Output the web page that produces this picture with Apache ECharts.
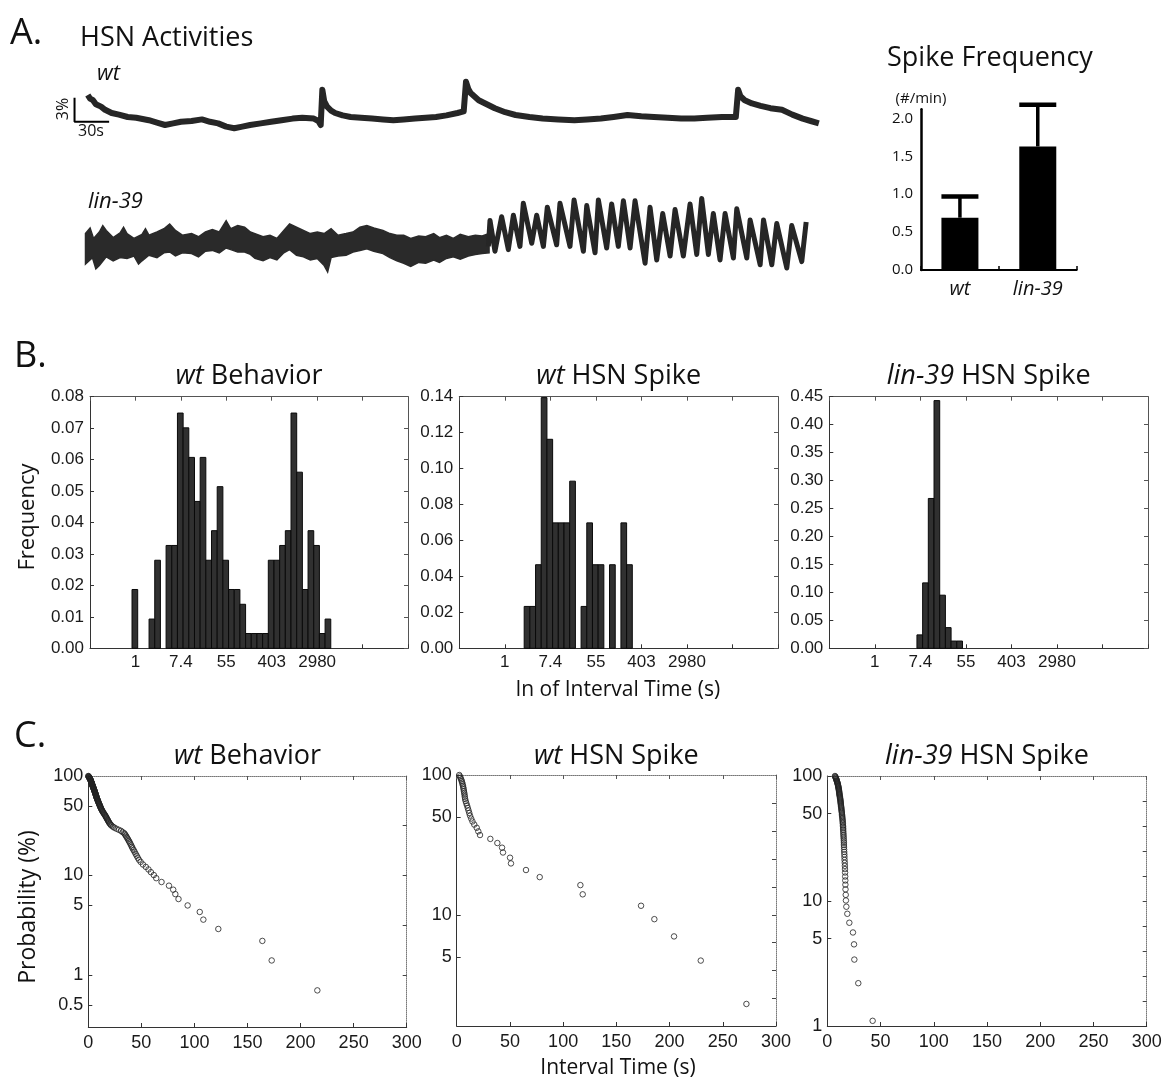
<!DOCTYPE html>
<html><head><meta charset="utf-8">
<script src="https://cdn.jsdelivr.net/npm/echarts@6/dist/echarts.min.js"></script>
<style>html,body{margin:0;padding:0;background:#fff}#c{width:1165px;height:1085px}</style>
</head><body><div id="c"></div>
<script>
// ---------------- DATA ----------------
// Panel A: traces (time s, dF/F %)
const wtTrace = [[0,3.75],[2,3.3],[4.5,3.1],[7,2.6],[11.5,2.3],[15,1.9],[20.7,1.5],[27,1.3],[34.6,1.0],[42,0.9],[53,0.6],[60,0.3],[67,0.0],[74,0.2],[80.8,0.4],[90,0.5],[99,0.7],[106,0.4],[113,0.2],[120,-0.2],[127,-0.4],[134,-0.2],[140.7,0.0],[150,0.2],[159,0.4],[168,0.6],[177.6,0.8],[186,0.9],[196,0.8],[200,0.5],[202,0.0],[203.4,4.4],[205,3.0],[207.5,2.3],[211,1.8],[214.5,1.5],[221,1.2],[228,1.0],[237,0.9],[246.5,0.8],[256,0.7],[265,0.6],[274,0.7],[283.8,0.8],[293,0.9],[302,1.0],[311,1.2],[320.6,1.5],[326,1.7],[328,5.4],[330,4.5],[332,4.0],[339,3.1],[346,2.6],[353,2.1],[362,1.6],[371,1.25],[383,1.0],[394.4,0.8],[408,0.7],[422,0.6],[433,0.7],[445,0.8],[456,1.0],[468,1.25],[480,1.1],[491,1.0],[503,0.9],[514.5,0.8],[526,0.8],[537,0.9],[550,1.0],[562,1.0],[564,4.4],[566,3.6],[569.7,3.1],[576,2.7],[583.5,2.4],[592,2.1],[602,1.9],[611,1.3],[620,0.8],[627,0.5],[634,0.2]];
const lin39BandUpper = [[-2,1.8],[2,2.5],[5,1.2],[10,2.0],[13,2.8],[16,2.2],[22,1.3],[28,1.9],[31,2.6],[34,1.8],[40,1.2],[47,1.7],[50,2.4],[53,1.6],[60,2.0],[66,2.4],[71,3.0],[76,2.2],[82,1.6],[90,1.8],[96,1.4],[102,2.0],[108,2.3],[114,2.0],[120,3.4],[124,2.4],[130,2.8],[136,2.6],[141,2.0],[145,1.8],[152,1.4],[158,1.6],[164,1.2],[170,2.2],[175,3.0],[181,2.6],[187,2.2],[193,1.8],[199,2.0],[205,1.8],[211,2.4],[217,1.6],[224,1.8],[230,2.0],[236,2.6],[242,2.8],[248,2.5],[256,2.2],[262,1.8],[268,1.6],[274,1.6],[280,1.2],[287,1.5],[293,1.4],[300,1.8],[305,1.3],[311,1.6],[317,1.2],[323,1.7],[330,1.4],[336,1.6],[342,1.5],[348,1.8]];
const lin39BandLower = [[-2,-2.0],[4,-1.2],[7,-2.6],[10,-2.2],[16,-1.1],[22,-1.6],[28,-1.2],[34,-1.3],[40,-1.0],[44,-2.0],[47,-1.6],[53,-0.9],[60,-1.2],[66,-0.6],[71,-0.5],[76,-1.0],[82,-0.6],[90,-0.7],[96,-1.1],[102,-0.4],[108,-0.3],[114,-0.6],[120,0.0],[124,-0.2],[130,-0.5],[136,-0.5],[141,-0.8],[145,-1.3],[152,-1.6],[158,-1.2],[164,-1.5],[170,-0.6],[175,-0.2],[181,-0.9],[187,-1.1],[193,-1.5],[199,-1.3],[205,-2.2],[208,-3.0],[211,-1.2],[217,-1.0],[224,-0.9],[230,-0.5],[236,-0.3],[242,-0.1],[248,-0.4],[256,-0.7],[262,-1.2],[268,-1.6],[274,-1.9],[280,-2.3],[287,-1.8],[293,-1.9],[300,-1.5],[305,-1.8],[311,-1.3],[317,-1.1],[323,-1.4],[330,-1.0],[336,-0.8],[342,-0.7],[348,-0.6]];
const lin39Osc = [[347.4,0.2],[348.8,3.45],[353.1,-0.4],[358.9,3.9],[364.7,-0.2],[369.1,4.1],[374.8,0.2],[377.7,5.6],[385.0,0.6],[389.3,4.1],[395.1,0.2],[398.5,5.1],[406.6,0.4],[409.5,5.6],[418.2,0.2],[421.7,6.0],[429.8,-0.4],[432.7,5.3],[439.9,-0.6],[442.8,6.0],[450.0,0.0],[454.3,5.5],[460.1,0.2],[464.5,5.9],[470.3,0.0],[474.6,5.9],[483.3,-1.9],[487.6,5.1],[493.4,-1.5],[498.6,4.3],[505.0,-1.0],[509.3,4.8],[516.5,-1.0],[522.3,5.5],[528.1,-0.8],[532.4,6.2],[538.2,-0.8],[542.5,4.3],[548.3,-1.5],[552.7,4.3],[559.9,-1.25],[562.8,4.9],[571.5,-1.25],[574.4,3.5],[583.1,-2.1],[586.0,3.5],[593.2,-2.1],[597.5,3.05],[606.2,-2.5],[610.5,2.8],[619.2,-1.7],[623.0,3.25]];
const scaleBar = [[-11.5,3.4],[-11.5,0.4],[18.5,0.4]];

// Spike frequency
const freqCategories = ['wt','lin-39'];
const freqMean = [0.69, 1.63];
const freqUpper = [0.97, 2.18];

// Panel B histograms (ln of interval), bin left edges + frequency
const histBinWidth = 0.25;
const histTickValues = [0,2,4,6,8];
const histTickLabels = ['1','7.4','55','403','2980'];
const wtBehBinStart = [-0.15,0.60,0.85,1.35,1.60,1.85,2.10,2.35,2.60,2.85,3.10,3.35,3.60,3.85,4.10,4.35,4.60,4.85,5.10,5.35,5.60,5.85,6.10,6.35,6.60,6.85,7.10,7.35,7.60,7.85,8.10,8.35];
const wtBehFreq     = [0.0187,0.0093,0.028,0.0327,0.0327,0.0748,0.0701,0.0607,0.0467,0.0607,0.028,0.0374,0.0514,0.028,0.0187,0.0187,0.014,0.0047,0.0047,0.0047,0.0047,0.028,0.028,0.0327,0.0374,0.0748,0.056,0.0187,0.0374,0.0327,0.0047,0.0093];
const wtHsnBinStart = [0.85,1.10,1.35,1.60,1.85,2.10,2.35,2.60,2.85,3.35,3.60,3.85,4.10,4.60,5.10,5.35];
const wtHsnFreq     = [0.0233,0.0233,0.0465,0.1395,0.1163,0.0698,0.0698,0.0698,0.093,0.0233,0.0698,0.0465,0.0465,0.0465,0.0698,0.0465];
const lin39BinStart = [1.85,2.10,2.35,2.60,2.85,3.10,3.35,3.60];
const lin39Freq     = [0.024,0.117,0.268,0.443,0.095,0.037,0.013,0.013];

// Panel C survival (interval s, probability %)
const survWtBeh = [[0.0,100],[0.18,99.3],[0.36,98.6],[0.54,97.8],[0.72,97.1],[0.9,96.4],[1.08,95.7],[1.26,95.0],[1.44,94.2],[1.62,93.5],[1.8,92.8],[1.98,92.1],[2.1,91.4],[2.2,90.6],[2.35,89.9],[2.45,89.2],[2.6,88.5],[2.7,87.8],[2.8,87.1],[2.95,86.3],[3.05,85.6],[3.2,84.9],[3.3,84.2],[3.4,83.5],[3.55,82.7],[3.65,82.0],[3.8,81.3],[3.9,80.6],[4.0,79.9],[4.15,79.1],[4.3,78.4],[4.45,77.7],[4.6,77.0],[4.75,76.3],[4.9,75.5],[5.05,74.8],[5.2,74.1],[5.3,73.4],[5.45,72.7],[5.6,71.9],[5.75,71.2],[5.9,70.5],[6.05,69.8],[6.2,69.1],[6.35,68.3],[6.5,67.6],[6.6,66.9],[6.75,66.2],[6.9,65.5],[7.05,64.7],[7.2,64.0],[7.35,63.3],[7.5,62.6],[7.6,61.9],[7.75,61.2],[7.9,60.4],[8.1,59.7],[8.3,59.0],[8.5,58.3],[8.7,57.6],[8.9,56.8],[9.1,56.1],[9.3,55.4],[9.5,54.7],[9.7,54.0],[9.9,53.2],[10.15,52.5],[10.4,51.8],[10.65,51.1],[10.9,50.4],[11.1,49.6],[11.35,48.9],[11.6,48.2],[11.85,47.5],[12.1,46.8],[12.5,46.0],[12.85,45.3],[13.2,44.6],[13.55,43.9],[13.9,43.2],[14.4,42.4],[14.85,41.7],[15.3,41.0],[15.8,40.3],[16.25,39.6],[16.65,38.8],[17.05,38.1],[17.5,37.4],[17.9,36.7],[18.35,36.0],[18.8,35.3],[19.3,34.5],[19.8,33.8],[20.4,33.1],[21.1,32.4],[21.85,31.7],[23.3,30.9],[24.6,30.2],[26.5,29.5],[28.7,28.8],[30.8,28.1],[32.3,27.3],[33.8,26.6],[34.6,25.9],[35.3,25.2],[36.0,24.5],[36.8,23.7],[37.5,23.0],[38.2,22.3],[38.9,21.6],[39.6,20.9],[40.4,20.1],[41.1,19.4],[41.8,18.7],[42.7,18.0],[43.6,17.3],[44.6,16.5],[45.6,15.8],[46.6,15.1],[47.7,14.4],[49.3,13.7],[51.5,12.9],[54.2,12.2],[56.7,11.5],[59.0,10.8],[61.7,10.1],[64.0,9.4],[69,8.6],[76,7.9],[80,7.2],[82,6.5],[85,5.8],[93.6,5.0],[105,4.3],[108.4,3.6],[122.5,2.9],[164,2.2],[172.8,1.4],[215.8,0.7]];
const survWtHsn = [[2.4,100],[3.0,97.7],[3.6,95.3],[4.2,93.0],[4.7,90.7],[5.1,88.4],[5.5,86.0],[5.9,83.7],[6.2,81.4],[6.5,79.1],[6.8,76.7],[7.1,74.4],[7.4,72.1],[7.6,69.8],[7.9,67.4],[8.4,65.1],[9.0,62.8],[9.7,60.5],[10.4,58.1],[11.1,55.8],[11.8,53.5],[12.5,51.2],[13.6,48.8],[14.8,46.5],[16.5,44.2],[18.8,41.9],[20.3,39.5],[21.9,37.2],[31.6,34.9],[38.2,32.6],[42.6,30.2],[43.5,27.9],[50.1,25.6],[51.0,23.3],[65.1,20.9],[78.0,18.6],[116.2,16.3],[118.4,14.0],[173.2,11.6],[185.7,9.3],[204.2,7.0],[229.3,4.7],[272.2,2.3]];
const survLin39 = [[7.2,100],[7.5,98.9],[7.7,97.8],[8.0,96.6],[8.2,95.5],[8.4,94.4],[8.6,93.3],[8.8,92.1],[9.0,91.0],[9.2,89.9],[9.4,88.8],[9.6,87.6],[9.8,86.5],[9.9,85.4],[10.1,84.3],[10.2,83.1],[10.4,82.0],[10.5,80.9],[10.6,79.8],[10.7,78.7],[10.9,77.5],[11.0,76.4],[11.1,75.3],[11.2,74.2],[11.3,73.0],[11.4,71.9],[11.5,70.8],[11.6,69.7],[11.8,68.5],[11.9,67.4],[12.0,66.3],[12.2,65.2],[12.3,64.0],[12.4,62.9],[12.5,61.8],[12.6,60.7],[12.7,59.6],[12.8,58.4],[12.9,57.3],[13.1,56.2],[13.2,55.1],[13.3,53.9],[13.4,52.8],[13.6,51.7],[13.7,50.6],[13.8,49.4],[13.9,48.3],[14.0,47.2],[14.2,46.1],[14.3,44.9],[14.4,43.8],[14.5,42.7],[14.6,41.6],[14.7,40.4],[14.8,39.3],[14.9,38.2],[14.9,37.1],[15.0,36.0],[15.1,34.8],[15.2,33.7],[15.3,32.6],[15.4,31.5],[15.5,30.3],[15.6,29.2],[15.6,28.1],[15.7,27.0],[15.8,25.8],[15.9,24.7],[16.0,23.6],[16.1,22.5],[16.2,21.3],[16.4,20.2],[16.5,19.1],[16.6,18.0],[16.7,16.9],[16.8,15.7],[16.9,14.6],[17.0,13.5],[17.1,12.4],[17.3,11.2],[17.5,10.1],[17.9,9.0],[18.8,7.9],[20.7,6.7],[24.1,5.6],[25.1,4.5],[25.4,3.4],[29.1,2.2],[42.6,1.1]];
const survLabelsWtBeh = [100,50,10,5,1,0.5];
const survLabelsWtHsn = [100,50,10,5];
const survLabelsLin39 = [100,50,10,5,1];
const survRightTicksWtBeh = [0,0.5,1,1.5];
const survRightTicksWtHsn = [0.4,0.6,0.8,1.0,1.2,1.4,1.6,1.8];
const survRightTicksLin39 = [0.2,0.4,0.6,0.8,1.0,1.2,1.4,1.6,1.8];

// ---------------- CHART ----------------
const TICK_FONT = 'Liberation Sans';
const TITLE_FONT = 'Open Sans';
const INK = '#1a1a1a';
const grids=[], xAxes=[], yAxes=[], series=[], graphics=[];
function addGrid(g){ grids.push(g); return grids.length-1; }

function histRender(params, api){
  const a = api.coord([api.value(0), 0]);
  const b = api.coord([api.value(1), api.value(2)]);
  return {type:'rect', shape:{x:a[0], y:b[1], width:b[0]-a[0], height:a[1]-b[1]},
    style:{fill:'#303030', stroke:'#0a0a0a', lineWidth:1}};
}
const tickLbl = (size)=>({color:INK, fontFamily:TICK_FONT, fontSize:size});

function addHist(box, yMax, yInt, binStart, freq){
  const gi = addGrid(box);
  const xb = xAxes.length;
  xAxes.push({gridIndex:gi, type:'value', min:-2, max:12, interval:2, position:'bottom',
    axisLine:{show:true,onZero:false,lineStyle:{color:'#333',width:1}},
    axisTick:{show:true,inside:true,length:4,lineStyle:{color:'#333'}},
    axisLabel:Object.assign({margin:6, formatter:v=>{const i=histTickValues.indexOf(v);return i>=0?histTickLabels[i]:'';}}, tickLbl(17)),
    splitLine:{show:false}});
  xAxes.push({gridIndex:gi, type:'value', min:-2, max:12, interval:2, position:'top',
    axisLine:{show:true,onZero:false,lineStyle:{color:'#555',width:1}},
    axisTick:{show:true,inside:true,length:4,lineStyle:{color:'#555'}},
    axisLabel:{show:false}, splitLine:{show:false}});
  const yl = yAxes.length;
  yAxes.push({gridIndex:gi, type:'value', min:0, max:yMax, interval:yInt, position:'left',
    axisLine:{show:true,onZero:false,lineStyle:{color:'#333',width:1}},
    axisTick:{show:true,inside:true,length:4,lineStyle:{color:'#333'}},
    axisLabel:Object.assign({margin:6, formatter:v=>v.toFixed(2)}, tickLbl(17)),
    splitLine:{show:false}});
  yAxes.push({gridIndex:gi, type:'value', min:0, max:yMax, interval:yInt, position:'right',
    axisLine:{show:true,onZero:false,lineStyle:{color:'#555',width:1}},
    axisTick:{show:true,inside:true,length:4,lineStyle:{color:'#555'}},
    axisLabel:{show:false}, splitLine:{show:false}});
  series.push({type:'custom', xAxisIndex:xb, yAxisIndex:yl, renderItem:histRender, silent:true,
    encode:{x:[0,1], y:2}, data:binStart.map((s,i)=>[s, s+histBinWidth, freq[i]])});
}

function addSurv(box, yMin, labels, rightTicks, data){
  const gi = addGrid(box);
  const xb = xAxes.length;
  xAxes.push({gridIndex:gi, type:'value', min:0, max:300, interval:50, position:'bottom',
    axisLine:{show:true,onZero:false,lineStyle:{color:'#333',width:1}},
    axisTick:{show:true,inside:true,length:4,lineStyle:{color:'#333'}},
    axisLabel:Object.assign({margin:7}, tickLbl(18)), splitLine:{show:false}});
  xAxes.push({gridIndex:gi, type:'value', min:0, max:300, interval:50, position:'top',
    axisLine:{show:true,onZero:false,lineStyle:{color:'#777',width:1,type:'dotted'}},
    axisTick:{show:true,inside:true,length:4,lineStyle:{color:'#555'}},
    axisLabel:{show:false}, splitLine:{show:false}});
  const ylog = yAxes.length;
  const lmin = Math.log10(yMin);
  yAxes.push({gridIndex:gi, type:'log', logBase:10, min:yMin, max:100, position:'left',
    axisLine:{show:true,onZero:false,lineStyle:{color:'#333',width:1}},
    axisTick:{show:false}, axisLabel:{show:false}, splitLine:{show:false}, minorTick:{show:false}});
  const lv = labels.map(Math.log10);
  yAxes.push({gridIndex:gi, type:'value', min:lmin, max:2, position:'left',
    axisLine:{show:false,onZero:false},
    axisTick:{show:true,inside:true,length:4,customValues:lv,lineStyle:{color:'#333'}},
    axisLabel:Object.assign({margin:5, customValues:lv,
      formatter:v=>{const l=labels.find(l=>Math.abs(Math.log10(l)-v)<1e-6);return l===undefined?'':String(l);}}, tickLbl(18)),
    splitLine:{show:false}});
  yAxes.push({gridIndex:gi, type:'value', min:lmin, max:2, position:'right',
    axisLine:{show:true,onZero:false,lineStyle:{color:'#777',width:1,type:'dotted'}},
    axisTick:{show:true,inside:true,length:4,customValues:rightTicks,lineStyle:{color:'#444'}},
    axisLabel:{show:false}, splitLine:{show:false}});
  series.push({type:'scatter', xAxisIndex:xb, yAxisIndex:ylog, data:data, symbol:'circle', symbolSize:5.5,
    silent:true, itemStyle:{color:'rgba(0,0,0,0)', borderColor:'#222', borderWidth:1}});
}

// --- Panel A traces
const gWt = addGrid({left:70.5, top:61, width:749.5, height:88});
const gLin = addGrid({left:70.5, top:192, width:749.5, height:88});
[gWt,gLin].forEach((g,k)=>{
  xAxes.push({gridIndex:g, type:'value', min:-15, max:635, show:false});
  yAxes.push({gridIndex:g, type:'value', min:k?-4:-3, max:k?7:8, show:false});
});
series.push({type:'line', xAxisIndex:0, yAxisIndex:0, data:wtTrace, showSymbol:false, silent:true,
  lineStyle:{color:'#262626', width:6, join:'round'}});
series.push({type:'line', xAxisIndex:0, yAxisIndex:0, data:scaleBar, showSymbol:false, silent:true,
  lineStyle:{color:'#000', width:2}});
series.push({type:'custom', xAxisIndex:1, yAxisIndex:1, data:[[0,0]], silent:true,
  renderItem:(p, api)=>{
    const pts = lin39BandUpper.map(d=>api.coord(d)).concat(lin39BandLower.slice().reverse().map(d=>api.coord(d)));
    return {type:'polygon', shape:{points:pts}, style:{fill:'#2a2a2a', stroke:'#2a2a2a', lineWidth:1.5}};
  }});
series.push({type:'line', xAxisIndex:1, yAxisIndex:1, data:lin39Osc, showSymbol:false, silent:true,
  lineStyle:{color:'#262626', width:5, join:'round'}});

// --- Spike frequency
const gF = addGrid({left:921, top:109.3, width:155.7, height:160.7});
const xF = xAxes.length, yF = yAxes.length;
xAxes.push({gridIndex:gF, type:'category', data:freqCategories,
  axisLine:{show:true,onZero:false,lineStyle:{color:'#000',width:2}},
  axisTick:{show:true,inside:true,length:4,alignWithLabel:false,lineStyle:{color:'#000',width:1.5}},
  axisLabel:{margin:9, fontStyle:'italic', fontFamily:TITLE_FONT, fontSize:20, color:'#111'}});
yAxes.push({gridIndex:gF, type:'value', min:0, max:2.12, interval:0.5,
  axisLine:{show:true,onZero:false,lineStyle:{color:'#000',width:2.5}},
  axisTick:{show:false}, splitLine:{show:false},
  axisLabel:{margin:8, fontFamily:TITLE_FONT, fontSize:15, color:'#111',
    formatter:v=>(Math.abs(v*2-Math.round(v*2))<1e-9? v.toFixed(1):'')},
  name:'(#/min)', nameLocation:'end', nameGap:3,
  nameTextStyle:{fontFamily:TITLE_FONT, fontSize:15, color:'#111', align:'center'}});
series.push({type:'bar', xAxisIndex:xF, yAxisIndex:yF, data:freqMean, barWidth:37, silent:true,
  itemStyle:{color:'#000'}});
series.push({type:'custom', xAxisIndex:xF, yAxisIndex:yF, silent:true,
  data:freqCategories.map((c,i)=>[i, freqMean[i], freqUpper[i]]),
  renderItem:(p, api)=>{
    const a = api.coord([api.value(0), api.value(1)]);
    const b = api.coord([api.value(0), api.value(2)]);
    const h = 18.5;
    return {type:'group', children:[
      {type:'line', shape:{x1:a[0],y1:a[1],x2:b[0],y2:b[1]}, style:{stroke:'#000',lineWidth:3.5}},
      {type:'line', shape:{x1:b[0]-h,y1:b[1],x2:b[0]+h,y2:b[1]}, style:{stroke:'#000',lineWidth:4.5}}
    ]};
  }});

// --- Panel B
addHist({left:90, top:396.7, width:318, height:251.6}, 0.08, 0.01, wtBehBinStart, wtBehFreq);
addHist({left:459.3, top:396.7, width:318.7, height:251.6}, 0.14, 0.02, wtHsnBinStart, wtHsnFreq);
addHist({left:829.3, top:396.7, width:318.7, height:251.6}, 0.45, 0.05, lin39BinStart, lin39Freq);

// --- Panel C
addSurv({left:88.3, top:776, width:318.4, height:251}, 0.3, survLabelsWtBeh, survRightTicksWtBeh, survWtBeh);
addSurv({left:456.7, top:775, width:319.3, height:251}, 1.6, survLabelsWtHsn, survRightTicksWtHsn, survWtHsn);
addSurv({left:827.3, top:776, width:319.4, height:250}, 1, survLabelsLin39, survRightTicksLin39, survLin39);

// --- Texts
function txt(x, y, text, size, opts){
  opts = opts || {};
  const fam = opts.family || TITLE_FONT;
  graphics.push({type:'text', x:x, y:y, rotation:opts.rot||0, silent:true, z:10,
    style:{text:text, fontSize:size, fontFamily:fam, fill:'#111', align:opts.align||'left', verticalAlign:'middle',
      rich:{i:{fontStyle:'italic', fontSize:size, fontFamily:fam, fill:'#111'}}}});
}
txt(10, 34, 'A.', 36);
txt(80, 38, 'HSN Activities', 27);
txt(97, 74, '{i|wt}', 22);
txt(88, 202, '{i|lin-39}', 22);
txt(887, 58, 'Spike Frequency', 27);
txt(63, 109, '3%', 16, {align:'center', rot:Math.PI/2});
txt(91, 131, '30s', 16, {align:'center'});
txt(14, 357, 'B.', 36);
txt(249, 376, '{i|wt} Behavior', 27, {align:'center'});
txt(618.7, 376, '{i|wt} HSN Spike', 27, {align:'center'});
txt(988.7, 376, '{i|lin-39} HSN Spike', 27, {align:'center'});
txt(28, 517, 'Frequency', 22, {align:'center', rot:Math.PI/2});
txt(618, 690, 'ln of Interval Time (s)', 21, {align:'center'});
txt(14, 737, 'C.', 36);
txt(247.5, 756, '{i|wt} Behavior', 27, {align:'center'});
txt(616.4, 756, '{i|wt} HSN Spike', 27, {align:'center'});
txt(987, 756, '{i|lin-39} HSN Spike', 27, {align:'center'});
txt(28, 907, 'Probability (%)', 23, {align:'center', rot:Math.PI/2});
txt(618, 1068, 'Interval Time (s)', 21, {align:'center'});

const chart = echarts.init(document.getElementById('c'), null, {renderer:'canvas', width:1165, height:1085});
chart.setOption({animation:false, backgroundColor:'#fff', grid:grids, xAxis:xAxes, yAxis:yAxes, series:series, graphic:graphics});
</script></body></html>
